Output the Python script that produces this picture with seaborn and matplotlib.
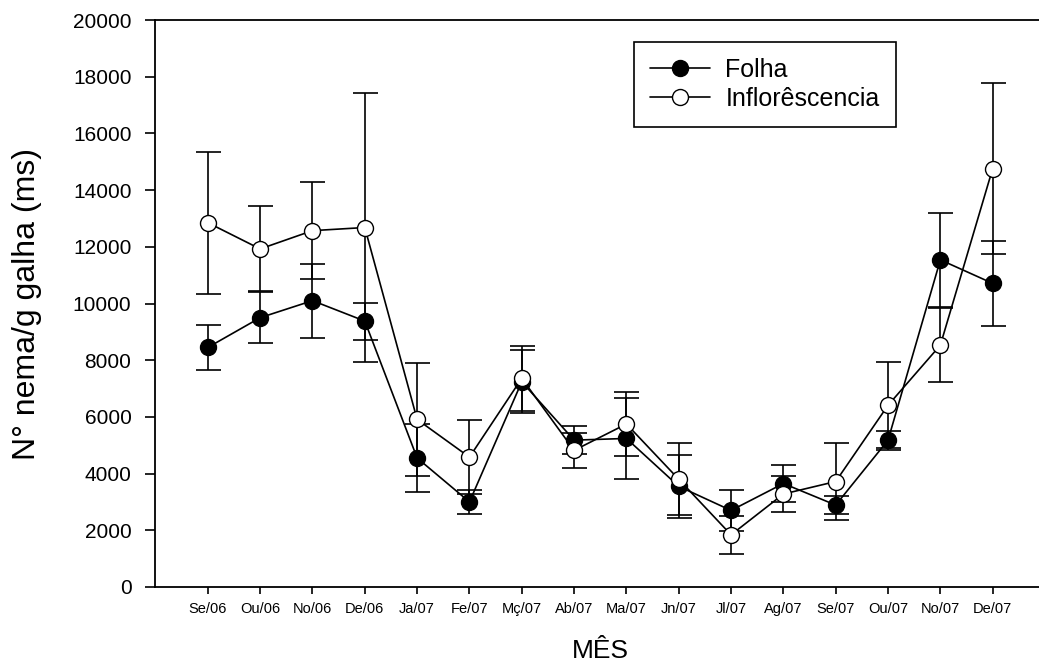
import matplotlib
matplotlib.use("Agg")
import matplotlib.pyplot as plt
import seaborn as sns
import numpy as np
import pandas as pd

months = ["Se/06", "Ou/06", "No/06", "De/06", "Ja/07", "Fe/07", "Mç/07", "Ab/07",
          "Ma/07", "Jn/07", "Jl/07", "Ag/07", "Se/07", "Ou/07", "No/07", "De/07"]
folha = [8450, 9500, 10100, 9380, 4550, 3000, 7240, 5180, 5240, 3550, 2700, 3650, 2890, 5180, 11540, 10710]
folha_err = [800, 900, 1300, 650, 1200, 420, 1120, 500, 1440, 1100, 720, 660, 320, 330, 1660, 1490]
infl = [12850, 11925, 12570, 12680, 5910, 4580, 7360, 4820, 5750, 3800, 1840, 3280, 3720, 6410, 8530, 14760]
infl_err = [2500, 1500, 1720, 4750, 2000, 1300, 1150, 620, 1140, 1270, 680, 630, 1370, 1510, 1300, 3030]

x = np.arange(len(months))
df = pd.DataFrame({"x": np.concatenate([x, x]),
                   "y": folha + infl,
                   "serie": ["Folha"] * len(x) + ["Inflorêscencia"] * len(x)})

sns.set_style("white")
plt.rcParams['font.family'] = ['Liberation Sans', 'DejaVu Sans']
plt.rcParams.update({'text.color': 'black', 'axes.labelcolor': 'black',
                     'xtick.color': 'black', 'ytick.color': 'black'})

fig = plt.figure(figsize=(10.39, 6.62), dpi=100)
W, H = 1039, 662
left, right, top, bottom = 155, 1045, 20, 587
ax = fig.add_axes([left / W, 1 - bottom / H, (right - left) / W, (bottom - top) / H])

lw = 1.2
ax.errorbar(x, folha, yerr=folha_err, fmt='none', ecolor='black', elinewidth=lw,
            capsize=9, capthick=lw, zorder=1)
ax.errorbar(x, infl, yerr=infl_err, fmt='none', ecolor='black', elinewidth=lw,
            capsize=9, capthick=lw, zorder=1)

sns.lineplot(data=df[df.serie == "Folha"], x="x", y="y", ax=ax, color='black',
             marker='o', markersize=11.5, markerfacecolor='black', markeredgecolor='black',
             markeredgewidth=1.0, linewidth=lw, label="Folha", zorder=3)
sns.lineplot(data=df[df.serie == "Inflorêscencia"], x="x", y="y", ax=ax, color='black',
             marker='o', markersize=11.5, markerfacecolor='white', markeredgecolor='black',
             markeredgewidth=1.0, linewidth=lw, label="Inflorêscencia", zorder=3)

ax.set_xlim(-1.01, 16)
ax.set_ylim(0, 20000)
ax.set_xticks(x)
ax.set_xticklabels(months, fontsize=10.5)
ax.set_yticks(np.arange(0, 20001, 2000))
ax.tick_params(axis='y', labelsize=15, length=7, width=1.2, direction='out', pad=10, left=True)
ax.tick_params(axis='x', length=5, width=1.2, direction='out', pad=6, bottom=True)

for s in ['left', 'bottom', 'top']:
    ax.spines[s].set_visible(True)
    ax.spines[s].set_color('black')
    ax.spines[s].set_linewidth(1.3)
ax.spines['right'].set_visible(False)

ax.set_xlabel("MÊS", fontsize=19, labelpad=16)
ax.set_ylabel("N° nema/g galha (ms)", fontsize=23, labelpad=22)

leg = ax.legend(loc='upper left', bbox_to_anchor=(634 / W, 1 - 41.7 / H),
                bbox_transform=fig.transFigure, fontsize=18, frameon=True, fancybox=False,
                framealpha=1, handlelength=2.4, handletextpad=0.6, borderpad=0.65,
                labelspacing=0.2, borderaxespad=0)
leg.get_frame().set_edgecolor('black')
leg.get_frame().set_linewidth(1.2)
for t in leg.get_texts():
    t.set_color('black')

fig.savefig("out.png", dpi=100)
